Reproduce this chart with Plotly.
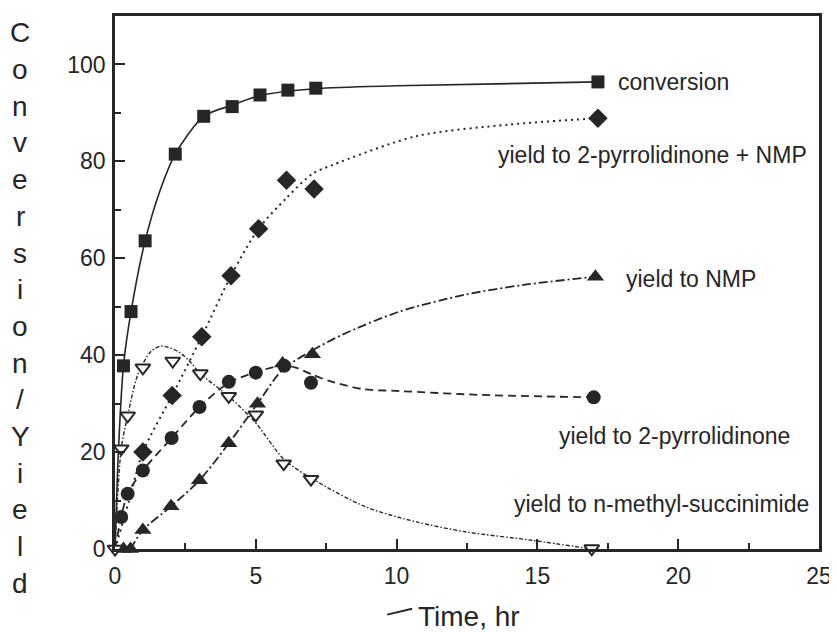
import plotly.graph_objects as go

# ---------------- data ----------------
# measured points
conv_t = [0.30, 0.57, 1.07, 2.14, 3.15, 4.16, 5.15, 6.14, 7.13, 17.15]
conv_y = [37.8, 49.0, 63.6, 81.5, 89.3, 91.3, 93.7, 94.7, 95.1, 96.4]

sum_t = [0.99, 2.03, 3.08, 4.12, 5.10, 6.09, 7.07, 17.15]
sum_y = [20.0, 31.7, 43.8, 56.4, 66.1, 76.1, 74.3, 88.9]

pyr_t = [0.22, 0.45, 0.99, 2.01, 3.00, 4.04, 5.00, 6.01, 6.96, 17.0]
pyr_y = [6.6, 11.4, 16.2, 22.9, 29.3, 34.5, 36.4, 37.8, 34.3, 31.3]

nmp_t = [0.30, 0.55, 0.99, 1.99, 3.00, 4.04, 5.06, 5.95, 7.01, 17.06]
nmp_y = [0.0, 0.0, 3.9, 8.8, 14.2, 21.8, 30.0, 38.3, 40.2, 56.2]

nms_t = [0.0, 0.22, 0.45, 0.99, 2.05, 3.03, 4.04, 5.00, 5.99, 6.96, 16.93]
nms_y = [0.0, 20.7, 27.5, 37.4, 38.8, 36.2, 31.5, 27.7, 17.6, 14.4, 0.1]

# fitted curves
conv_ct = [0.0, 0.12, 0.30, 0.57, 1.07, 1.6, 2.14, 3.15, 4.16, 5.15, 7.13, 10.0, 17.15]
conv_cy = [0.0, 20.0, 37.8, 49.0, 63.6, 74.0, 81.5, 89.3, 91.6, 93.6, 95.0, 95.6, 96.4]

sum_ct = [0.0, 0.5, 0.99, 2.03, 3.08, 4.12, 5.10, 6.10, 7.0, 7.7, 10.7, 14.0, 17.15]
sum_cy = [0.0, 10.0, 20.0, 31.7, 43.8, 56.4, 66.1, 72.5, 77.4, 79.2, 85.2, 87.6, 88.9]

pyr_ct = [0.0, 0.22, 0.45, 0.99, 2.01, 3.00, 4.04, 5.00, 6.0, 6.44, 7.0, 7.6, 8.8, 10.1, 13.0, 17.0]
pyr_cy = [0.0, 6.6, 11.4, 16.2, 22.9, 29.3, 34.3, 36.5, 37.9, 37.4, 36.0, 34.7, 33.0, 32.6, 31.8, 31.3]

nmp_ct = [0.55, 0.99, 1.99, 3.00, 4.04, 5.06, 5.95, 7.01, 8.1, 10.1, 12.45, 14.5, 17.06]
nmp_cy = [0.0, 3.9, 8.8, 14.2, 21.8, 30.0, 37.0, 41.0, 44.3, 49.0, 52.5, 54.5, 56.2]

nms_ct = [0.0, 0.22, 0.45, 0.81, 1.28, 1.64, 2.23, 2.64, 3.03, 4.04, 5.0, 6.0, 7.0, 8.9, 10.7, 12.5, 14.8, 16.93]
nms_cy = [0.0, 20.7, 27.5, 36.0, 40.8, 41.9, 40.8, 38.8, 36.2, 31.5, 26.0, 18.5, 14.5, 8.7, 5.6, 3.5, 1.8, 0.0]

x_ticks = [0, 5, 10, 15, 20, 25]
y_ticks = [0, 20, 40, 60, 80, 100]

labels = ["conversion", "yield to 2-pyrrolidinone + NMP", "yield to NMP",
          "yield to 2-pyrrolidinone", "yield to n-methyl-succinimide"]
label_x = [17.78, 13.53, 18.06, 15.69, 14.09]
label_y = [96.4, 81.3, 55.8, 23.4, 9.2]

y_title = "Conversion/Yield"
x_title = "Time, hr"

# ---------------- figure ----------------
INK = "#262626"
FONT = "Liberation Sans, Arial, sans-serif"

fig = go.Figure()

curves = [
    (conv_ct, conv_cy, "solid", 1.6),
    (sum_ct, sum_cy, "2px,4px", 2.0),
    (pyr_ct, pyr_cy, "8px,5px", 1.8),
    (nmp_ct, nmp_cy, "9px,3px,2px,3px", 1.8),
    (nms_ct, nms_cy, "4px,2px,1.5px,2px", 1.4),
]
for cx, cy, dash, w in curves:
    fig.add_trace(go.Scatter(x=cx, y=cy, mode="lines",
                             line=dict(color=INK, width=w, dash=dash, shape="spline", smoothing=0.8),
                             cliponaxis=False, showlegend=False, hoverinfo="skip"))

markers = [
    (conv_t, conv_y, "square", 13, INK),
    (sum_t, sum_y, "diamond", 15, INK),
    (pyr_t, pyr_y, "circle", 14, INK),
    (nmp_t, nmp_y, "triangle-up", 15, INK),
    (nms_t, nms_y, "triangle-down", 13, "white"),
]
for mx, my, sym, sz, fill in markers:
    fig.add_trace(go.Scatter(x=mx, y=my, mode="markers",
                             marker=dict(symbol=sym, size=sz, color=fill,
                                         line=dict(color=INK, width=2 if fill == "white" else 0)),
                             cliponaxis=False, showlegend=False))

annotations = []
for t, lx, ly in zip(labels, label_x, label_y):
    annotations.append(dict(x=lx, y=ly, xref="x", yref="y", text=t, showarrow=False,
                            xanchor="left", yanchor="middle",
                            font=dict(family=FONT, size=23, color=INK)))

# vertical stacked y-axis title (positions relative to the plot area: 706x536 px)
for i, ch in enumerate(y_title):
    py = 30 + i * 36.9
    annotations.append(dict(x=(20 - 115) / 706, y=(549 - py) / 536, xref="paper", yref="paper",
                            text=ch, showarrow=False, xanchor="center", yanchor="middle",
                            font=dict(family=FONT, size=28, color=INK)))

annotations.append(dict(x=(470 - 115) / 706, y=(549 - 617) / 536, xref="paper", yref="paper",
                        text=x_title, showarrow=False, xanchor="center", yanchor="middle",
                        font=dict(family=FONT, size=28, color=INK)))

fig.update_layout(
    width=829, height=624, autosize=False,
    margin=dict(l=107, r=16, t=5, b=83),
    paper_bgcolor="white", plot_bgcolor="white",
    annotations=annotations,
    shapes=[dict(type="line", xref="paper", yref="paper",
                 x0=(388 - 115) / 706, y0=(549 - 615) / 536,
                 x1=(413 - 115) / 706, y1=(549 - 609) / 536,
                 line=dict(color=INK, width=2))],
    font=dict(family=FONT, color=INK),
)

fig.update_xaxes(range=[0, 25], tickvals=x_ticks, ticks="inside", ticklen=10, tickwidth=2,
                 tickcolor=INK, showline=True, linewidth=2.5, linecolor=INK, mirror=True,
                 showgrid=False, zeroline=False, tickfont=dict(family=FONT, size=23, color=INK),
                 minor=dict(dtick=2.5, tick0=0, ticks="inside", ticklen=6, tickwidth=1.5, tickcolor=INK,
                            showgrid=False),
                 ticklabelstandoff=5)
fig.update_yaxes(range=[0, 110], tickvals=y_ticks, ticks="inside", ticklen=10, tickwidth=2,
                 tickcolor=INK, showline=True, linewidth=2.5, linecolor=INK, mirror=True,
                 showgrid=False, zeroline=False, tickfont=dict(family=FONT, size=23, color=INK),
                 minor=dict(dtick=10, tick0=0, ticks="inside", ticklen=6, tickwidth=1.5, tickcolor=INK,
                            showgrid=False),
                 ticklabelstandoff=2)

fig.write_html("out.html")
